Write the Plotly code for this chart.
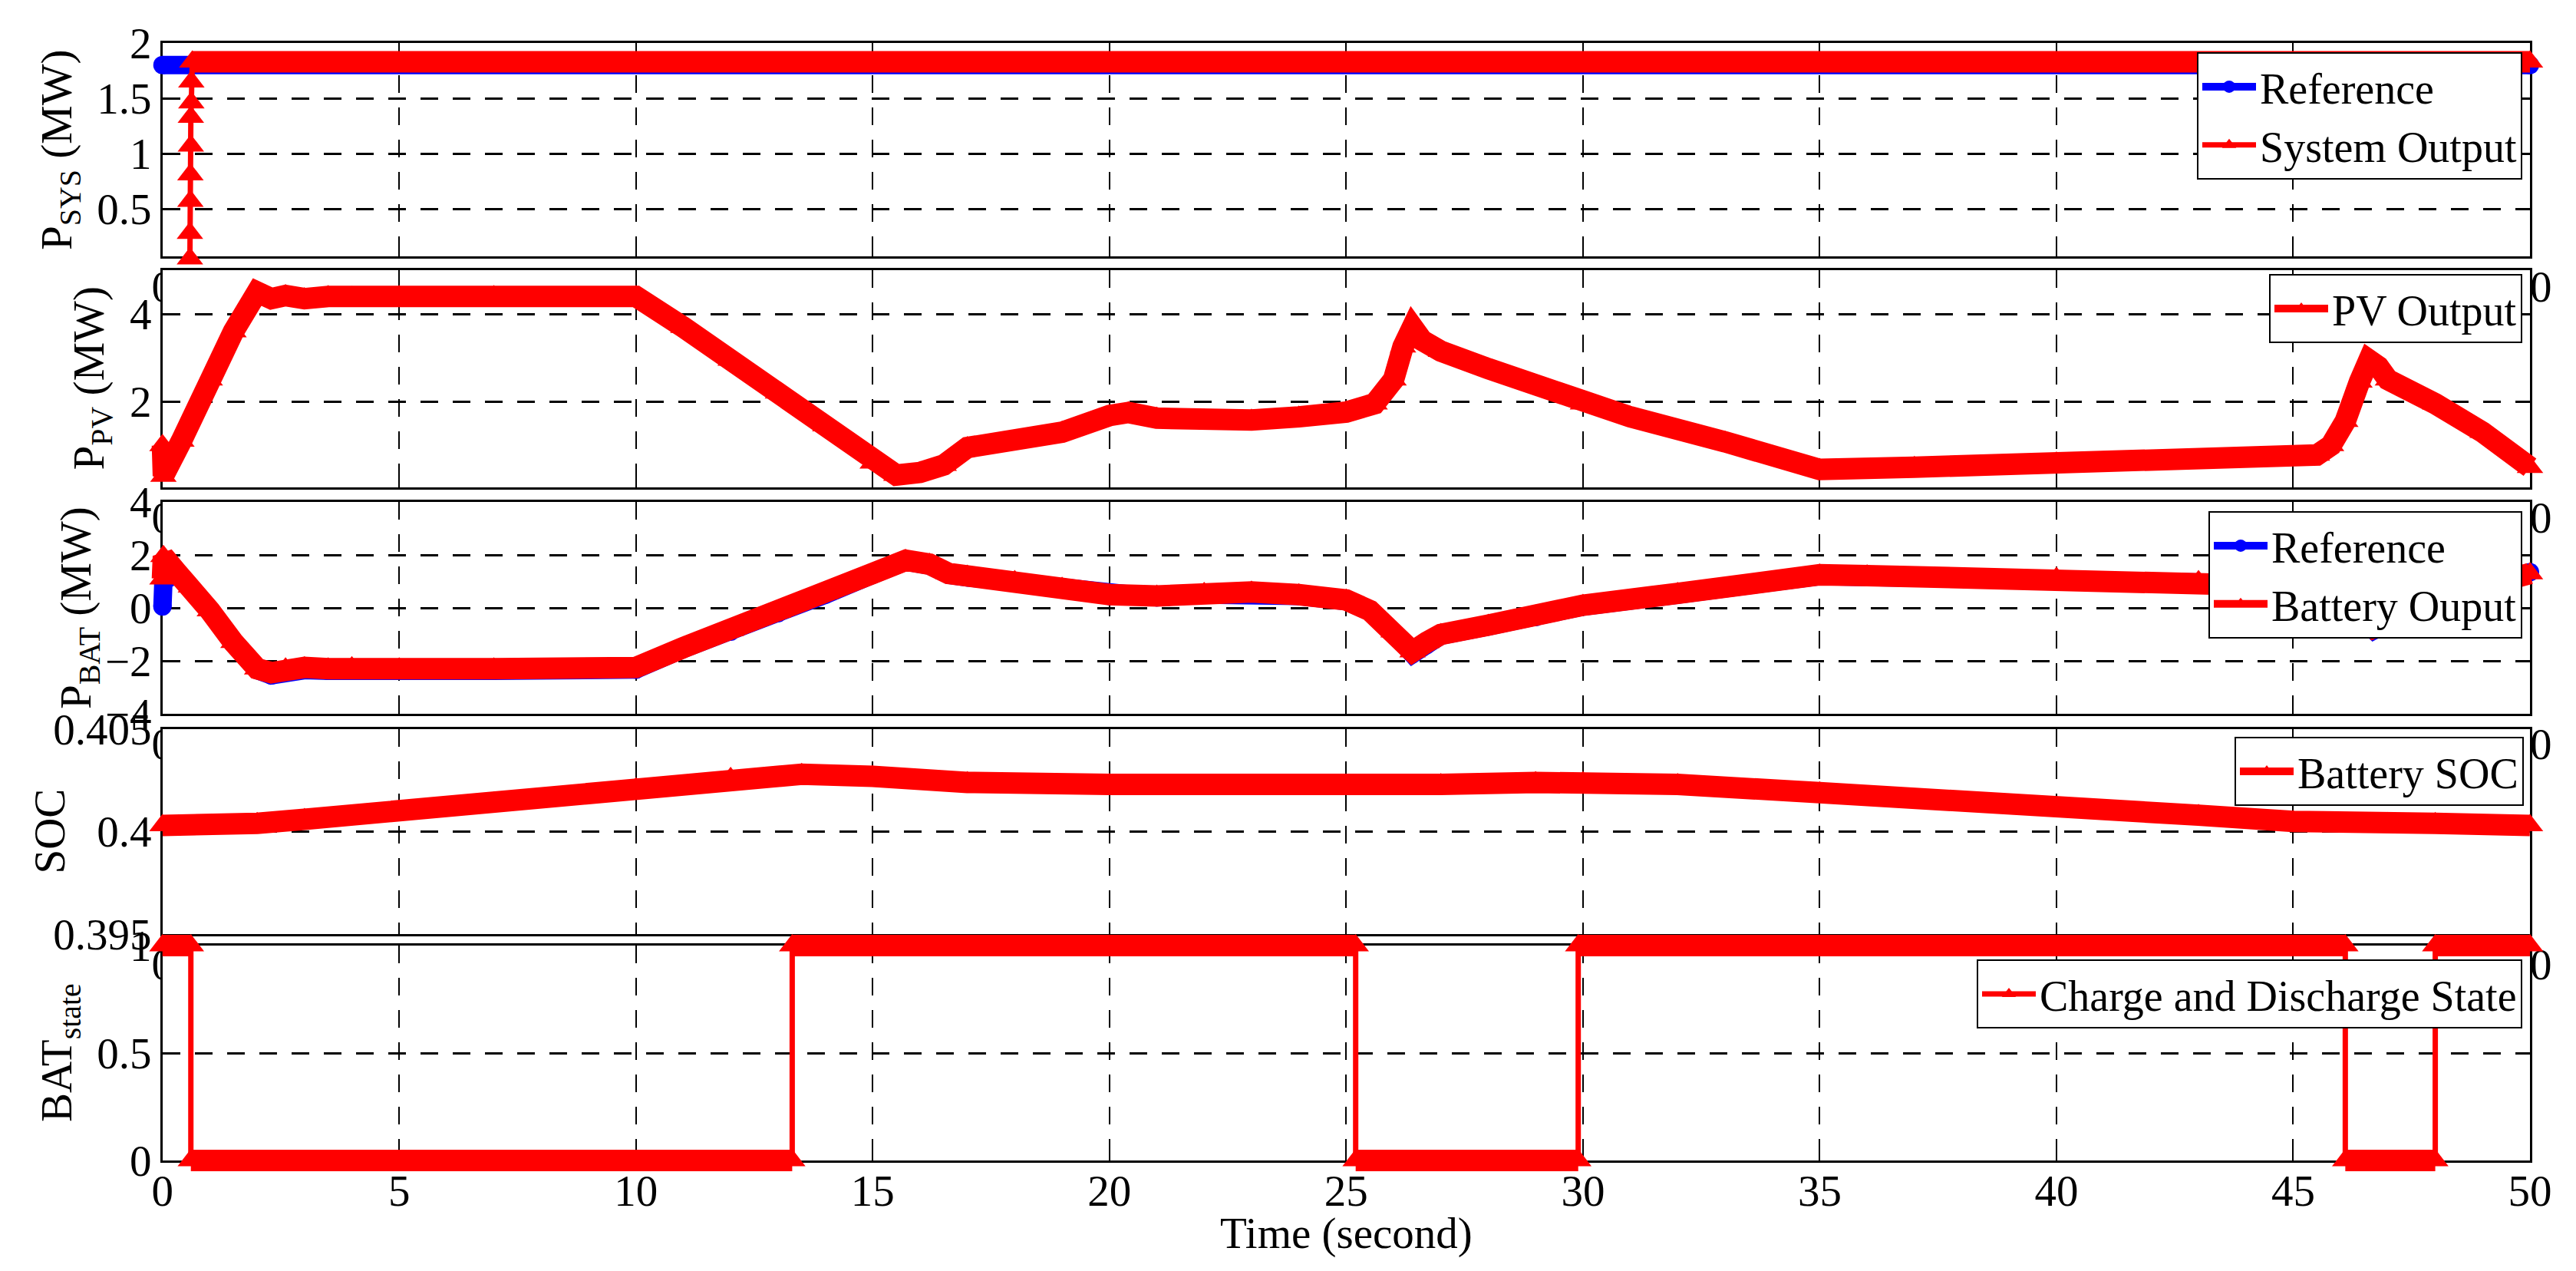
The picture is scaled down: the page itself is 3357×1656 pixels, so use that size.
import plotly.graph_objects as go

# ---- values (time in seconds) ----
# system power, MW
sys_ref_t = [0, 50]
sys_ref = [1.8, 1.8]
sys_out_t = [0.58, 0.58, 0.59, 0.59, 0.60, 0.60, 0.61, 0.61, 0.63, 50]
sys_out = [0.05, 0.28, 0.57, 0.81, 1.07, 1.33, 1.46, 1.65, 1.83, 1.83]

# PV power, MW
pv_t = [0, 0.02, 0.4, 1.0, 1.5, 2.0, 2.3, 2.6, 3.0, 3.5, 4, 5, 7, 10, 11, 12, 13, 14,
        15, 15.5, 16, 16.5, 17, 18, 19, 20, 20.4, 21, 22, 23, 24, 25, 25.6, 26.0,
        26.2, 26.4, 26.6, 27, 28, 29, 30, 31, 33, 35, 37, 40, 43, 45, 45.5, 45.8,
        46.1, 46.4, 46.6, 46.8, 47, 48, 49, 50]
pv_out = [1.0, 0.3, 1.1, 2.5, 3.6, 4.5, 4.35, 4.42, 4.35, 4.4, 4.38, 4.4, 4.4, 4.4,
          3.7, 2.95, 2.2, 1.45, 0.6, 0.32, 0.38, 0.55, 0.95, 1.1, 1.3, 1.68, 1.75,
          1.62, 1.58, 1.58, 1.65, 1.76, 1.95, 2.5, 3.25, 3.7, 3.4, 3.15, 2.75, 2.37,
          1.95, 1.65, 1.08, 0.45, 0.5, 0.6, 0.65, 0.68, 0.78, 1.0, 1.55, 2.45, 2.95,
          2.8, 2.5, 1.95, 1.3, 0.5]

# battery power, MW
bat_t = [0, 0.02, 0.3, 0.6, 1.0, 1.5, 2.0, 2.3, 2.6, 3.0, 3.5, 4, 5, 7, 10, 11, 12,
         13, 14, 15, 15.7, 16.2, 16.6, 17, 18, 19, 20, 21, 22, 23, 24, 25, 25.5, 26.0,
         26.4, 26.7, 27, 28, 29, 30, 32, 35, 36, 40, 43, 45, 45.5, 46, 46.4, 46.7, 47,
         47.5, 48, 49, 50]
bat_ref = [0.05, 1.0, 1.3, 0.75, -0.15, -1.35, -2.35, -2.55, -2.4, -2.35, -2.38,
           -2.35, -2.38, -2.38, -2.33, -1.55, -0.9, -0.2, 0.5, 1.25, 1.75, 1.6, 1.25,
           1.15, 0.95, 0.7, 0.45, 0.4, 0.5, 0.55, 0.45, 0.25, -0.15, -0.95, -1.75,
           -1.4, -1.05, -0.7, -0.35, 0.05, 0.5, 1.2, 1.17, 1.07, 0.95, 0.9, 0.75, 0.4,
           -0.35, -0.85, -0.55, -0.05, 0.25, 0.75, 1.35]
bat_out = [1.1, 1.95, 1.35, 0.8, -0.1, -1.3, -2.3, -2.45, -2.3, -2.25, -2.3, -2.25,
           -2.3, -2.3, -2.25, -1.5, -0.85, -0.15, 0.55, 1.3, 1.8, 1.65, 1.3, 1.2, 1.0,
           0.75, 0.5, 0.45, 0.55, 0.6, 0.5, 0.3, -0.1, -0.9, -1.65, -1.3, -1.0, -0.65,
           -0.3, 0.1, 0.55, 1.25, 1.22, 1.12, 1.0, 0.95, 0.8, 0.45, -0.3, -0.75, -0.5,
           0.0, 0.3, 0.8, 1.3]

# battery state of charge
soc_t = [0, 1, 2, 3, 5, 7, 10, 12, 13.5, 15, 17, 20, 23, 25, 27, 29, 30, 32, 35, 38,
         40, 43, 45, 46, 47, 48, 50]
soc = [0.4003, 0.4003, 0.4004, 0.4006, 0.4010, 0.4014, 0.4021, 0.4026, 0.4028,
       0.4027, 0.4024, 0.4023, 0.4022, 0.4022, 0.4023, 0.4024, 0.4024, 0.4023,
       0.4019, 0.4014, 0.4011, 0.4008, 0.4005, 0.4004, 0.4004, 0.4004, 0.4003]

# charge / discharge state (1 = charging)
state_t = [0, 0.6, 0.6, 13.3, 13.3, 25.2, 25.2, 29.9, 29.9, 46.1, 46.1, 48.0, 48.0, 50]
state = [1, 1, 0, 0, 1, 1, 0, 0, 1, 1, 0, 0, 1, 1]

# axis ticks
t_ticks = [0, 5, 10, 15, 20, 25, 30, 35, 40, 45, 50]
sys_ticks = [0.5, 1, 1.5, 2]
pv_ticks = [2, 4]
bat_ticks = [-4, -2, 0, 2, 4]
soc_ticks = [0.395, 0.4, 0.405]
soc_ticktext = ["0.395", "0.4", "0.405"]
state_ticks = [0, 0.5, 1]

# ---- layout geometry (pixels of the 3357x1656 page) ----
W, H = 3357, 1656
X_LEFT, X_RIGHT = 211.7, 3297.0
PAD = 40
FONT = "Liberation Serif"
RED = "#ff0000"
BLUE = "#0000ff"
LW = 28

# top px, bottom px, y range, y ticks, title, title centre (x px)
panels = [
    (56, 334, [0.07, 2], sys_ticks, "P<sub>SYS</sub> (MW)", 78),
    (352, 635, [0.04, 5], pv_ticks, "P<sub>PV</sub> (MW)", 120),
    (654, 930, [-4, 4], bat_ticks, "P<sub>BAT</sub> (MW)", 103),
    (950, 1217, [0.395, 0.405], soc_ticks, "SOC", 64),
    (1232, 1512, [0, 1], state_ticks, "BAT<sub>state</sub>", 78),
]
# legend top-right corners (px)
legend_pos = [(3287, 68), (3287, 357), (3287, 666), (3289, 960), (3287, 1250)]

fig = go.Figure()
layout = {}
shapes = []
annotations = []
tick_font = dict(family=FONT, size=57, color="black")

upx = 50 / (X_RIGHT - X_LEFT)
for i, (top, bot, yr, yt, title, title_x) in enumerate(panels):
    fx = "x" if i == 0 else f"x{i + 1}"
    fy = "y" if i == 0 else f"y{i + 1}"
    n = i + 6
    fkx = "xaxis" if i == 0 else f"xaxis{i + 1}"
    fky = "yaxis" if i == 0 else f"yaxis{i + 1}"

    # visible frame with ticks and dashed grid
    layout[fkx] = dict(
        domain=[X_LEFT / W, X_RIGHT / W], range=[0, 50], anchor=fy,
        tickvals=t_ticks, tickfont=tick_font, ticklabelstandoff=-12,
        showline=True, linecolor="black", linewidth=2.5, mirror="ticks",
        ticks="inside", ticklen=12, tickwidth=2, tickcolor="black",
        showgrid=True, gridcolor="black", gridwidth=2, griddash="23px,19px",
        zeroline=False, fixedrange=True, automargin=False,
    )
    layout[fky] = dict(
        domain=[1 - bot / H, 1 - top / H], range=yr, anchor=fx,
        tickvals=yt, tickfont=tick_font,
        showline=True, linecolor="black", linewidth=2.5, mirror="ticks",
        ticks="inside", ticklen=12, tickwidth=2, tickcolor="black",
        showgrid=True, gridcolor="black", gridwidth=2.5, griddash="23px,19px",
        zeroline=False, fixedrange=True, automargin=False,
    )
    if i == 3:
        layout[fky]["ticktext"] = soc_ticktext
    fig.add_trace(go.Scatter(x=[None], y=[None], xaxis=fx, yaxis=fy,
                             showlegend=False, hoverinfo="skip"))

    # white axes background hides the time labels of the panel above, as in MATLAB
    if i > 0:
        shapes.append(dict(type="rect", xref=fx, yref=fy, x0=0, x1=50,
                           y0=yr[0], y1=yr[1], fillcolor="white",
                           line=dict(width=0), layer="below"))

    annotations.append(dict(
        text=title, xref="paper", yref="paper", x=title_x / W,
        y=1 - (top + bot) / 2 / H, xanchor="center", yanchor="middle",
        textangle=-90, showarrow=False, font=tick_font,
    ))

    # invisible data axes with the same scale, padded so thick lines are not clipped
    upy = (yr[1] - yr[0]) / (bot - top)
    layout[f"xaxis{n}"] = dict(
        domain=[(X_LEFT - PAD) / W, (X_RIGHT + PAD) / W],
        range=[-PAD * upx, 50 + PAD * upx], anchor=f"y{n}", visible=False,
        fixedrange=True, automargin=False,
    )
    layout[f"yaxis{n}"] = dict(
        domain=[1 - (bot + PAD) / H, 1 - (top - PAD) / H],
        range=[yr[0] - PAD * upy, yr[1] + PAD * upy], anchor=f"x{n}",
        visible=False, fixedrange=True, automargin=False,
    )

    lx, ly = legend_pos[i]
    lkey = "legend" if i == 0 else f"legend{i + 1}"
    layout[lkey] = dict(
        x=lx / W, y=1 - ly / H, xanchor="right", yanchor="top",
        font=dict(family=FONT, size=56, color="black"),
        bgcolor="white", bordercolor="black", borderwidth=2,
        itemwidth=70, tracegroupgap=0,
    )

# time axis label under the bottom panel
annotations.append(dict(
    text="Time (second)", xref="paper", yref="paper",
    x=(X_LEFT + X_RIGHT) / 2 / W, y=1 - 1607 / H,
    xanchor="center", yanchor="middle", showarrow=False, font=tick_font,
))


def red_line(x, y, ax, name, width=LW, markers=True, legend=True, lg="legend"):
    return go.Scatter(
        x=x, y=y, xaxis=f"x{ax}", yaxis=f"y{ax}", name=name,
        mode="lines+markers" if markers else "lines",
        line=dict(color=RED, width=width),
        marker=dict(symbol="triangle-up", size=30, color=RED),
        showlegend=legend, legend=lg, hoverinfo="skip",
    )


def blue_line(x, y, ax, lg):
    return go.Scatter(
        x=x, y=y, xaxis=f"x{ax}", yaxis=f"y{ax}", name="Reference",
        mode="lines+markers", line=dict(color=BLUE, width=LW - 4),
        marker=dict(symbol="circle", size=24, color=BLUE),
        legend=lg, hoverinfo="skip",
    )


# panel 1: system output
k = sys_out.index(max(sys_out))
fig.add_trace(blue_line(sys_ref_t, sys_ref, 6, "legend"))
fig.add_trace(red_line(sys_out_t, sys_out, 6, "System Output", width=7))
fig.add_trace(red_line(sys_out_t[k:], sys_out[k:], 6, "System Output",
                       markers=False, legend=False))

# panel 2: PV
fig.add_trace(red_line(pv_t, pv_out, 7, "PV Output", lg="legend2"))

# panel 3: battery power
fig.add_trace(blue_line(bat_t, bat_ref, 8, "legend3"))
fig.add_trace(red_line(bat_t, bat_out, 8, "Battery Ouput", lg="legend3"))

# panel 4: SOC
fig.add_trace(red_line(soc_t, soc, 9, "Battery SOC", lg="legend4"))

# panel 5: state, thin switching edges and thick levels
fig.add_trace(red_line(state_t, state, 10, "Charge and Discharge State", width=7,
                       lg="legend5"))
seg_x, seg_y = [], []
for j in range(0, len(state_t) - 1, 2):
    seg_x += [state_t[j], state_t[j + 1], None]
    seg_y += [state[j], state[j + 1], None]
fig.add_trace(red_line(seg_x, seg_y, 10, "state", markers=False, legend=False))

fig.update_layout(
    width=W, height=H, margin=dict(l=0, r=0, t=0, b=0, autoexpand=False),
    paper_bgcolor="white", plot_bgcolor="rgba(0,0,0,0)",
    font=dict(family=FONT, color="black"), hovermode=False,
    shapes=shapes, annotations=annotations,
    **layout,
)

fig.write_html("out.html", config={"displayModeBar": False},
               post_script="document.body.style.margin='0';document.body.style.overflow='hidden';")
